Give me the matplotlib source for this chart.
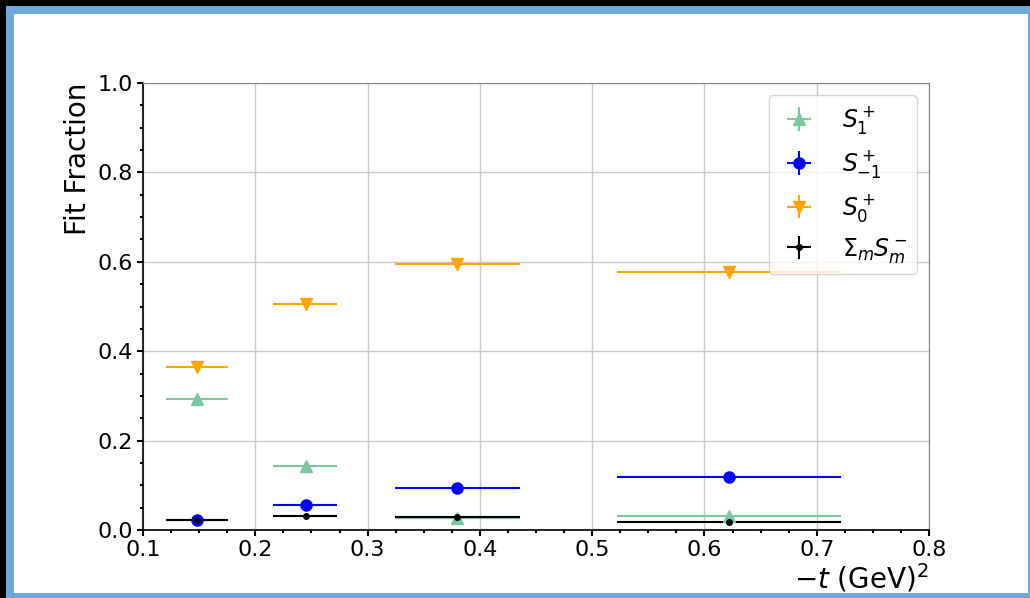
import numpy as np
import matplotlib
matplotlib.use("Agg")
import matplotlib.pyplot as plt
from matplotlib.patches import Rectangle
from matplotlib.ticker import MultipleLocator

# -t bins (GeV^2): centre and edges
t_center = np.array([0.148, 0.245, 0.380, 0.622])
t_low = np.array([0.1205, 0.2155, 0.3240, 0.5224])
t_high = np.array([0.1757, 0.2730, 0.4360, 0.7213])

# fit fractions per bin
S1_plus = [0.292, 0.143, 0.027, 0.032]
Sm1_plus = [0.022, 0.055, 0.093, 0.118]
S0_plus = [0.365, 0.505, 0.596, 0.578]
Sum_minus = [0.022, 0.031, 0.030, 0.019]
y_err = [0.004, 0.004, 0.004, 0.004]

xerr = [t_center - t_low, t_high - t_center]

fig = plt.figure(figsize=(10.30, 5.98), dpi=100, facecolor="black")

# slide-like frame
W, H = 1030.0, 598.0
fig.add_artist(Rectangle((6 / W, 0), 1 - 6 / W, 1 - 6 / H, transform=fig.transFigure,
                         facecolor="#6fa8dc", edgecolor="none", zorder=-3))
fig.add_artist(Rectangle((14 / W, 5 / H), (1028 - 14) / W, (593 - 14) / H,
                         transform=fig.transFigure, facecolor="white",
                         edgecolor="none", zorder=-2))

ax = fig.add_axes([143 / W, 68 / H, 786 / W, 447 / H])

kw = dict(xerr=xerr, yerr=y_err, linestyle="none", elinewidth=1.5, capsize=0)
ax.errorbar(t_center, S1_plus, color="#7cc7a1", marker="^", markersize=8,
            label=r"$S_1^+$", **kw)
ax.errorbar(t_center, Sm1_plus, color="blue", marker="o", markersize=8,
            label=r"$S_{-1}^+$", **kw)
ax.errorbar(t_center, S0_plus, color="orange", marker="v", markersize=8,
            label=r"$S_0^+$", **kw)
ax.errorbar(t_center, Sum_minus, color="black", marker="o", markersize=4,
            label=r"$\Sigma_m S_m^-$", **kw)

ax.set_xlim(0.1, 0.8)
ax.set_ylim(0.0, 1.0)
ax.xaxis.set_minor_locator(MultipleLocator(0.025))
ax.yaxis.set_minor_locator(MultipleLocator(0.05))
ax.tick_params(which="major", labelsize=16, length=4, width=1.5)
ax.tick_params(which="minor", length=2, width=1.5)
ax.grid(True, which="major", color="#c8c8c8", linewidth=1)
ax.set_axisbelow(True)
for side in ["top", "right"]:
    ax.spines[side].set_color("#808080")
for side in ["left", "bottom"]:
    ax.spines[side].set_linewidth(1.2)

ax.set_xlabel(r"$-t$ (GeV)$^2$", fontsize=20, loc="right", labelpad=1)
ax.set_ylabel("Fit Fraction", fontsize=20, loc="top")

ax.legend(loc="upper right", fontsize=17, handletextpad=0.9, labelspacing=0.5,
          handlelength=1.8)

fig.savefig("out.png", dpi=100, facecolor=fig.get_facecolor())
